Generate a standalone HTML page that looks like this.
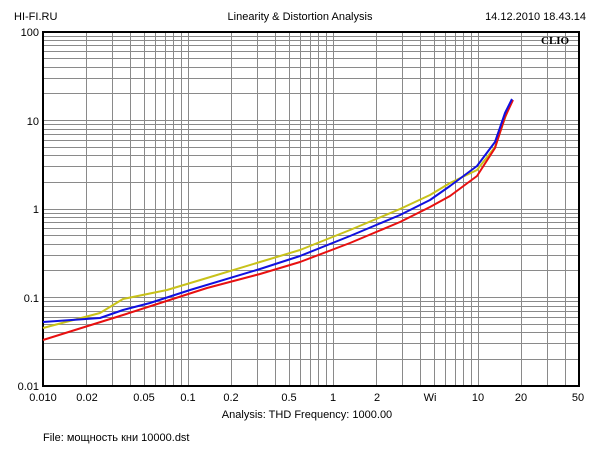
<!DOCTYPE html>
<html><head><meta charset="utf-8"><style>
body{margin:0;background:#fff;width:600px;height:450px;overflow:hidden}
svg{display:block}
text{font-family:"Liberation Sans",sans-serif;font-size:11px;fill:#000}
</style></head><body>
<svg width="600" height="450" xmlns="http://www.w3.org/2000/svg">
<text x="14" y="20">HI-FI.RU</text>
<text x="300" y="20" text-anchor="middle">Linearity &amp; Distortion Analysis</text>
<text x="586" y="20" text-anchor="end">14.12.2010 18.43.14</text>
<g stroke="#8a8a8a" stroke-width="1">
<path d="M86.5 32V386M112.5 32V386M130.5 32V386M144.5 32V386M155.5 32V386M165.5 32V386M173.5 32V386M181.5 32V386M188.5 32V386M231.5 32V386M257.5 32V386M275.5 32V386M289.5 32V386M300.5 32V386M310.5 32V386M318.5 32V386M326.5 32V386M333.5 32V386M376.5 32V386M402.5 32V386M420.5 32V386M434.5 32V386M445.5 32V386M455.5 32V386M463.5 32V386M471.5 32V386M478.5 32V386M521.5 32V386M547.5 32V386M565.5 32V386"/>
<path d="M43 359.5H579M43 343.5H579M43 332.5H579M43 324.5H579M43 317.5H579M43 311.5H579M43 306.5H579M43 301.5H579M43 297.5H579M43 270.5H579M43 255.5H579M43 244.5H579M43 235.5H579M43 228.5H579M43 222.5H579M43 217.5H579M43 213.5H579M43 209.5H579M43 182.5H579M43 166.5H579M43 155.5H579M43 147.5H579M43 140.5H579M43 134.5H579M43 129.5H579M43 124.5H579M43 120.5H579M43 93.5H579M43 78.5H579M43 67.5H579M43 58.5H579M43 51.5H579M43 45.5H579M43 40.5H579M43 36.5H579"/>
</g>
<rect x="43" y="32" width="536" height="354" fill="none" stroke="#000" stroke-width="2"/>
<text x="541" y="44" style="font-family:'Liberation Serif',serif;font-size:11px;font-weight:bold">CLIO</text>
<g fill="none" stroke-width="2" stroke-linejoin="round">
<polyline stroke="#c8c21a" points="43,328 100,313 123,299 167,290 207,278 260,262 300,250 350,230 400,209 430,195 450,183 477,170 495,147 505,118 510,105"/>
<polyline stroke="#e81010" points="43,340 123,315 207,288 260,274 300,262 350,243 400,222 430,207 450,196 477,176 495,148 505,117 513,100"/>
<polyline stroke="#1010e0" points="43,322 100,318 123,310 150,303 190,290 260,269 300,256 350,236 400,215 430,200 450,186 477,166 495,142 505,113 512,99"/>
</g>
<g text-anchor="end">
<text x="39" y="36">100</text><text x="39" y="125">10</text><text x="39" y="213">1</text><text x="39" y="302">0.1</text><text x="39" y="390">0.01</text>
</g>
<g text-anchor="middle">
<text x="43" y="401">0.010</text><text x="87" y="401">0.02</text><text x="144" y="401">0.05</text><text x="188" y="401">0.1</text><text x="231" y="401">0.2</text><text x="289" y="401">0.5</text><text x="333" y="401">1</text><text x="377" y="401">2</text><text x="430" y="401">Wi</text><text x="478" y="401">10</text><text x="521" y="401">20</text><text x="578" y="401">50</text>
<text x="307" y="418">Analysis: THD   Frequency: 1000.00</text>
</g>
<text x="43" y="441">File: мощность кни 10000.dst</text>
</svg>
</body></html>
